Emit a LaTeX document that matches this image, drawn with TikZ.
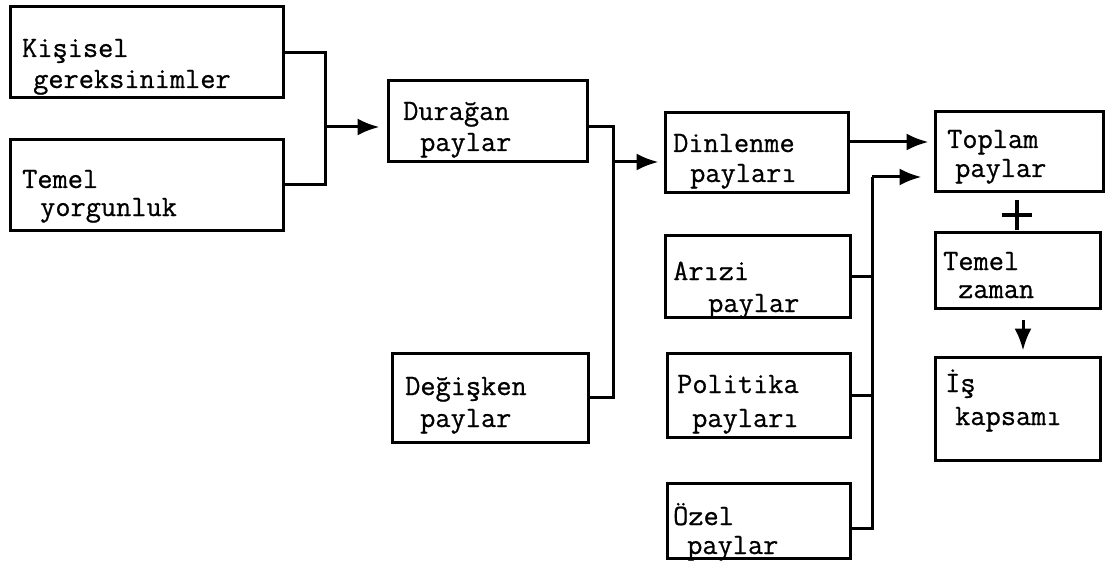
\documentclass[tikz,border=0pt]{standalone}
\usepackage{fontspec}
\newfontfamily\twfont{Latin Modern Mono}[FakeBold=0.7]
\usetikzlibrary{fit,arrows.meta,shapes.misc}
\begin{document}
\begin{tikzpicture}[x=1pt,y=-1pt,
  box/.style={draw, line width=3pt, inner sep=0pt},
  lbl/.style={anchor=base west, inner sep=0pt, font=\twfont\fontsize{29.5}{30}\selectfont},
  conn/.style={line width=3pt},
  arr/.style={line width=3pt, -{Latex[length=22pt,width=17pt]}}]
\useasboundingbox (0,0) rectangle (1117,575);
% boxes
\node[box, fit={(10,7)(283,98)}] (kis) {};
\node[box, fit={(10,140)(283,230)}] (temel) {};
\node[box, fit={(388,81)(587,162)}] (durg) {};
\node[box, fit={(392,353)(588,442)}] (degis) {};
\node[box, fit={(665,113)(848,193)}] (dinl) {};
\node[box, fit={(665,235)(850,317)}] (arizi) {};
\node[box, fit={(667,353)(850,437)}] (polit) {};
\node[box, fit={(667,483)(850,558)}] (ozel) {};
\node[box, fit={(935,112)(1103,192)}] (topl) {};
\node[box, fit={(935,232)(1100,308)}] (tzam) {};
\node[box, fit={(935,357)(1100,460)}] (isk) {};
% texts
\node[lbl] (t1a) at (22,57) {Kişisel};
\node[lbl] (t1b) at (33,88) {gereksinimler};
\node[lbl] (t2a) at (22,188) {Temel};
\node[lbl] (t2b) at (40,216) {yorgunluk};
\node[lbl] (t3a) at (403,120) {Durağan};
\node[lbl] (t3b) at (420,151) {paylar};
\node[lbl] (t4a) at (405,395) {Değişken};
\node[lbl] (t4b) at (420,427) {paylar};
\node[lbl] (t5a) at (673,152) {Dinlenme};
\node[lbl] (t5b) at (690,182) {payları};
\node[lbl] (t6a) at (673,280) {Arızi};
\node[lbl] (t6b) at (708,312) {paylar};
\node[lbl] (t7a) at (677,393) {Politika};
\node[lbl] (t7b) at (692,427) {payları};
\node[lbl] (t8a) at (673,525) {Özel};
\node[lbl] (t8b) at (687,554) {paylar};
\node[lbl] (t9a) at (947,148) {Toplam};
\node[lbl] (t9b) at (955,177) {paylar};
\node[lbl] (t10a) at (943,270) {Temel};
\node[lbl] (t10b) at (958,298) {zaman};
\node[lbl] (t11a) at (945,392) {İş};
\node[lbl] (t11b) at (955,425) {kapsamı};
% helper coordinates
\coordinate (b1) at (325,127);
\coordinate (b2) at (613,162);
\coordinate (b3) at (872,177);
\coordinate (y127) at (0,127);
\coordinate (y142) at (0,142);
\coordinate (y528) at (0,528);
\coordinate (d1) at (1023,320);
% connectors
\draw[conn] (kis.east) -| (b1) |- (temel.east);
\draw[arr, shorten >=7pt] (b1) -- (b1 -| durg.west);
\draw[conn] (durg.east |- y127) -| (b2) |- (degis.east);
\draw[arr, shorten >=5pt] (b2) -- (b2 -| dinl.west);
\draw[arr, shorten >=5pt] (dinl.east |- y142) -- (topl.west |- y142);
\draw[conn] (ozel.east |- y528) -| (b3);
\draw[conn] (arizi.east) -- (arizi.east -| b3);
\draw[conn] (polit.east) -- (polit.east -| b3);
\draw[arr, shorten >=12pt] (b3) -- (topl.west |- b3);
\node[cross out, draw, rotate=45, minimum size=18pt, inner sep=0pt, line width=3.5pt] (plus) at (1017,215) {};
\draw[arr, shorten >=5pt] (d1) -- (d1 |- isk.north);
\end{tikzpicture}
\end{document}
